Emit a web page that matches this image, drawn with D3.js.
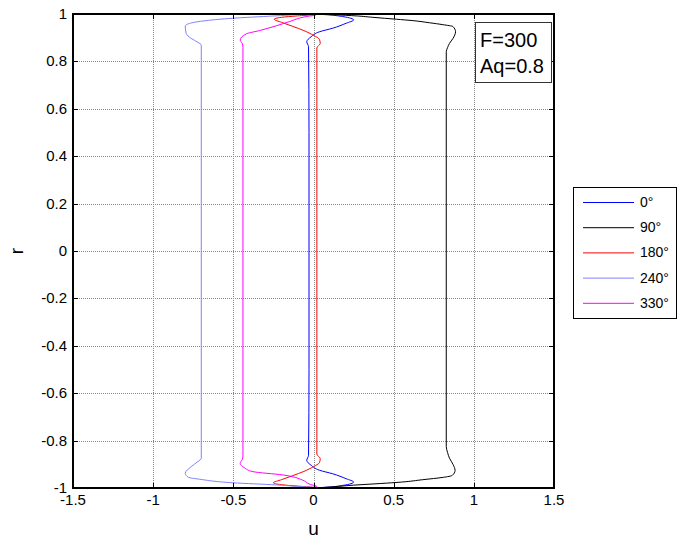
<!DOCTYPE html>
<meta charset="utf-8">
<style type="text/css">

body {
  margin: 0;
  background: #fff;
}

svg {
  font-family: "Liberation Sans", Arial, Helvetica, sans-serif;
}

.grid line {
  stroke: #8a8a8a;
  stroke-width: 1px;
  stroke-dasharray: 1,1;
  shape-rendering: crispEdges;
}

.frame {
  fill: none;
  stroke: #000;
  stroke-width: 1.5px;
  shape-rendering: crispEdges;
}

.tick-mark {
  stroke: #000;
  stroke-width: 1px;
  shape-rendering: crispEdges;
}

.curve {
  fill: none;
  stroke-width: 1px;
}

</style>
<body>

<div id="svgContainer"></div>

<script src="https://d3js.org/d3.v7.min.js"></script>
<script>
var width = 678,
    height = 544;

var margin = {left: 73, right: 124, top: 14, bottom: 56};

// axis ticks
var xTicks = [-1.5, -1, -0.5, 0, 0.5, 1, 1.5];
var xTickLabels = ['-1.5', '-1', '-0.5', '0', '0.5', '1', '1.5'];
var yTicks = [1, 0.8, 0.6, 0.4, 0.2, 0, -0.2, -0.4, -0.6, -0.8, -1];
var yTickLabels = ['1', '0.8', '0.6', '0.4', '0.2', '0', '-0.2', '-0.4', '-0.6', '-0.8', '-1'];

// series names and colours
var seriesNames = ['0°', '90°', '180°', '240°', '330°'];
var seriesColors = ['#0000ff', '#000000', '#ff0000', '#8080ff', '#ff00ff'];

// [u, r] points, top to bottom
var s0 = [
  [0, 1.0], [0.08, 0.997], [0.183, 0.989], [0.25, 0.975], [0.204, 0.961],
  [0.12, 0.94], [0.037, 0.925], [-0.015, 0.904], [-0.042, 0.883], [-0.031, 0.862],
  [-0.028, 0.5], [-0.028, 0], [-0.028, -0.5],
  [-0.031, -0.862], [-0.042, -0.883], [-0.015, -0.904], [0.037, -0.925], [0.12, -0.94],
  [0.204, -0.961], [0.25, -0.975], [0.183, -0.989], [0.08, -0.997], [0, -1.0]
];

var s90 = [
  [0, 1.0], [0.12, 0.997], [0.266, 0.992], [0.37, 0.986], [0.516, 0.978],
  [0.62, 0.972], [0.724, 0.963], [0.807, 0.955], [0.87, 0.947], [0.886, 0.925],
  [0.87, 0.897], [0.848, 0.876], [0.836, 0.858], [0.828, 0.841],
  [0.828, 0], [0.828, -0.825],
  [0.836, -0.85], [0.848, -0.874], [0.87, -0.9], [0.883, -0.926], [0.865, -0.947],
  [0.81, -0.955], [0.68, -0.965], [0.55, -0.975], [0.42, -0.981], [0.25, -0.988],
  [0.12, -0.995], [0, -1.0]
];

var s180 = [
  [0.02, 1.0], [0, 0.997], [-0.1, 0.992], [-0.2, 0.986], [-0.245, 0.978],
  [-0.2, 0.965], [-0.13, 0.948], [-0.06, 0.93], [0.0, 0.91], [0.037, 0.893],
  [0.042, 0.876], [0.021, 0.857],
  [0.021, 0], [0.021, -0.857],
  [0.042, -0.876], [0.037, -0.893], [0.0, -0.91], [-0.06, -0.93], [-0.13, -0.948],
  [-0.2, -0.965], [-0.25, -0.978], [-0.2, -0.986], [-0.1, -0.992], [0, -0.997], [0.02, -1.0]
];

var s240 = [
  [0, 1.0], [-0.1, 0.997], [-0.24, 0.992], [-0.505, 0.982], [-0.67, 0.972],
  [-0.774, 0.96], [-0.8, 0.949], [-0.794, 0.918], [-0.763, 0.897], [-0.72, 0.88],
  [-0.70, 0.869],
  [-0.70, 0], [-0.70, -0.875],
  [-0.72, -0.888], [-0.763, -0.91], [-0.8, -0.938], [-0.78, -0.955], [-0.71, -0.963],
  [-0.503, -0.978], [-0.233, -0.987], [-0.1, -0.993], [0, -0.997]
];

var s330 = [
  [0.02, 0.998], [0.01, 0.995], [-0.046, 0.989], [-0.15, 0.968], [-0.233, 0.95],
  [-0.337, 0.93], [-0.42, 0.916], [-0.457, 0.89], [-0.445, 0.876], [-0.44, 0.86],
  [-0.44, 0], [-0.44, -0.865],
  [-0.445, -0.88], [-0.457, -0.896], [-0.43, -0.915], [-0.378, -0.931], [-0.19, -0.945],
  [-0.07, -0.966], [-0.02, -0.985], [0.02, -0.993], [0.0, -0.998]
];

var seriesData = [s0, s90, s180, s240, s330];

var x = d3.scaleLinear()
    .domain([-1.5, 1.5])
    .range([margin.left, width - margin.right]);

var y = d3.scaleLinear()
    .domain([-1, 1])
    .range([height - margin.bottom, margin.top]);

var svg = d3.select('#svgContainer').append('svg')
    .attr('width', width)
    .attr('height', height);

var x0 = x.range()[0], x1 = x.range()[1];
var y0 = y.range()[1], y1 = y.range()[0];

// grid
var grid = svg.append('g').attr('class', 'grid');

grid.selectAll('.gx')
    .data(xTicks.slice(1, -1))
  .enter()
    .append('line')
        .attr('x1', function(d) { return Math.round(x(d)) + 0.5; })
        .attr('x2', function(d) { return Math.round(x(d)) + 0.5; })
        .attr('y1', y0)
        .attr('y2', y1);

grid.selectAll('.gy')
    .data(yTicks.slice(1, -1))
  .enter()
    .append('line')
        .attr('y1', function(d) { return Math.round(y(d)) + 0.5; })
        .attr('y2', function(d) { return Math.round(y(d)) + 0.5; })
        .attr('x1', x0)
        .attr('x2', x1);

// curves
var line = d3.line()
    .x(function(d) { return x(d[0]); })
    .y(function(d) { return y(d[1]); })
    .curve(d3.curveMonotoneY);

svg.append('g')
  .selectAll('path')
    .data(seriesData)
  .enter()
    .append('path')
        .attr('class', 'curve')
        .attr('stroke', function(d, i) { return seriesColors[i]; })
        .attr('d', line);

// frame and inward ticks on all four sides
svg.append('rect')
    .attr('class', 'frame')
    .attr('x', x0)
    .attr('y', y0)
    .attr('width', x1 - x0)
    .attr('height', y1 - y0);

var tickLen = 5;
var ticks = svg.append('g');

xTicks.forEach(function(d) {
  var px = Math.round(x(d)) + 0.5;
  ticks.append('line').attr('class', 'tick-mark')
      .attr('x1', px).attr('x2', px).attr('y1', y1).attr('y2', y1 - tickLen);
  ticks.append('line').attr('class', 'tick-mark')
      .attr('x1', px).attr('x2', px).attr('y1', y0).attr('y2', y0 + tickLen);
});

yTicks.forEach(function(d) {
  var py = Math.round(y(d)) + 0.5;
  ticks.append('line').attr('class', 'tick-mark')
      .attr('y1', py).attr('y2', py).attr('x1', x0).attr('x2', x0 + tickLen);
  ticks.append('line').attr('class', 'tick-mark')
      .attr('y1', py).attr('y2', py).attr('x1', x1).attr('x2', x1 - tickLen);
});

// tick labels
svg.append('g')
  .selectAll('text')
    .data(xTicks)
  .enter()
    .append('text')
        .attr('x', function(d) { return x(d); })
        .attr('y', y1 + 17)
        .attr('text-anchor', 'middle')
        .style('font-size', '15px')
        .text(function(d, i) { return xTickLabels[i]; });

svg.append('g')
  .selectAll('text')
    .data(yTicks)
  .enter()
    .append('text')
        .attr('x', x0 - 6)
        .attr('y', function(d) { return y(d) + 5; })
        .attr('text-anchor', 'end')
        .style('font-size', '15px')
        .text(function(d, i) { return yTickLabels[i]; });

// axis labels
svg.append('text')
    .attr('x', x(0))
    .attr('y', 535)
    .attr('text-anchor', 'middle')
    .style('font-size', '19px')
    .text('u');

svg.append('text')
    .attr('transform', 'translate(23,' + y(0) + ') rotate(-90)')
    .attr('text-anchor', 'middle')
    .style('font-size', '19px')
    .text('r');

// annotation box
var note = svg.append('g');
note.append('rect')
    .attr('x', 475.5).attr('y', 22.5)
    .attr('width', 76).attr('height', 60)
    .attr('fill', '#fff')
    .attr('stroke', '#333')
    .attr('stroke-width', 1);
note.append('text')
    .attr('x', 480).attr('y', 47)
    .style('font-size', '20px')
    .text('F=300');
note.append('text')
    .attr('x', 480).attr('y', 73)
    .style('font-size', '20px')
    .text('Aq=0.8');

// legend
var legend = svg.append('g');
legend.append('rect')
    .attr('x', 573.5).attr('y', 187.5)
    .attr('width', 103).attr('height', 131)
    .attr('fill', '#fff')
    .attr('stroke', '#000')
    .attr('stroke-width', 1);

var entry = legend.selectAll('.entry')
    .data(seriesNames)
  .enter()
    .append('g')
        .attr('transform', function(d, i) { return 'translate(0,' + (202 + i * 25.2) + ')'; });

entry.append('line')
    .attr('x1', 583).attr('x2', 634)
    .attr('y1', 0.5).attr('y2', 0.5)
    .attr('stroke', function(d, i) { return seriesColors[i]; })
    .attr('stroke-width', 1);

entry.append('text')
    .attr('x', 640)
    .attr('y', 5)
    .style('font-size', '14px')
    .text(function(d) { return d; });
</script>
